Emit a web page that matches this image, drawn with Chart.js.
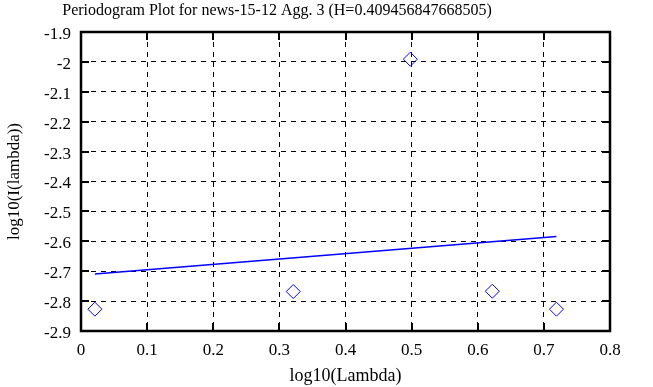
<!DOCTYPE html>
<html><head><meta charset="utf-8">
<script src="https://cdn.jsdelivr.net/npm/chart.js@4"></script>
<style>html,body{margin:0;padding:0;background:#fff}#c{display:block}</style>
</head><body>
<div style="width:653px;height:387px"><canvas id="c" width="653" height="387"></canvas></div>
<script>
const titleText = 'Periodogram Plot for news-15-12 Agg. 3 (H=0.409456847668505)';
const pointsX = [0.021, 0.321, 0.498, 0.622, 0.719];
const pointsY = [-2.827, -2.768, -1.991, -2.767, -2.827];
const fitX = [0.021, 0.719];
const fitY = [-2.709, -2.584];
const xTicks = [0, 0.1, 0.2, 0.3, 0.4, 0.5, 0.6, 0.7, 0.8];
const yTicks = [-2.9, -2.8, -2.7, -2.6, -2.5, -2.4, -2.3, -2.2, -2.1, -2, -1.9];

const fontFam = '"Liberation Serif","DejaVu Serif",serif';
const fmt = v => String(Number(v.toFixed(1)));

const frame = {
  id: 'frame',
  afterDatasetsDraw(chart) {
    const {ctx, chartArea: a, scales} = chart;
    ctx.save();
    ctx.strokeStyle = '#000';
    ctx.lineWidth = 2;
    const L = 8;
    ctx.beginPath();
    xTicks.forEach(v => {
      const px = Math.round(scales.x.getPixelForValue(v));
      ctx.moveTo(px, a.bottom); ctx.lineTo(px, a.bottom - L);
      ctx.moveTo(px, a.top); ctx.lineTo(px, a.top + L);
    });
    yTicks.forEach(v => {
      const py = Math.round(scales.y.getPixelForValue(v));
      ctx.moveTo(a.left, py); ctx.lineTo(a.left + L, py);
      ctx.moveTo(a.right, py); ctx.lineTo(a.right - L, py);
    });
    ctx.stroke();
    ctx.lineWidth = 2.5;
    ctx.strokeRect(a.left, a.top, a.right - a.left, a.bottom - a.top);
    // y tick labels
    ctx.fillStyle = '#000';
    ctx.font = '17px ' + fontFam;
    ctx.textAlign = 'right';
    ctx.textBaseline = 'middle';
    yTicks.forEach(v => {
      const py = scales.y.getPixelForValue(v);
      ctx.fillText(fmt(v), a.left - 10, py + 2.5);
    });
    // title
    ctx.font = '16px ' + fontFam;
    ctx.textAlign = 'center';
    ctx.fillText(titleText, 277, 11);
    // y axis title
    ctx.translate(15, (a.top + a.bottom) / 2);
    ctx.rotate(-Math.PI / 2);
    ctx.font = '17px ' + fontFam;
    ctx.fillText('log10(I(lambda))', 0, 0);
    ctx.restore();
  }
};

new Chart(document.getElementById('c'), {
  type: 'scatter',
  data: {
    datasets: [
      {
        data: pointsX.map((x, i) => ({x, y: pointsY[i]})),
        pointStyle: 'rectRot', pointRadius: 7, pointHoverRadius: 7,
        borderColor: '#0000ff', backgroundColor: 'rgba(0,0,0,0)', borderWidth: 1,
        showLine: false
      },
      {
        data: fitX.map((x, i) => ({x, y: fitY[i]})),
        showLine: true, pointRadius: 0, borderColor: '#0000ff', borderWidth: 1.5,
        fill: false
      }
    ]
  },
  options: {
    responsive: false, animation: false, devicePixelRatio: 1,
    layout: {padding: {left: 0, right: 43, top: 32, bottom: 0}},
    plugins: {
      legend: {display: false}, tooltip: {enabled: false},
      title: {display: false}
    },
    scales: {
      x: {
        type: 'linear', min: 0, max: 0.8,
        afterBuildTicks: s => { s.ticks = xTicks.map(v => ({value: v})); },
        afterFit: s => { s.height = 56; },
        ticks: {callback: fmt, color: '#000', padding: 9, maxRotation: 0,
          font: {family: fontFam, size: 17}},
        grid: {color: '#000', lineWidth: 1, drawTicks: false},
        border: {display: false, dash: [5, 5]},
        title: {display: true, text: 'log10(Lambda)', color: '#000', padding: {top: 0, bottom: 0},
          font: {family: fontFam, size: 18}}
      },
      y: {
        type: 'linear', min: -2.9, max: -1.9,
        afterBuildTicks: s => { s.ticks = yTicks.map(v => ({value: v})); },
        afterFit: s => { s.width = 81; },
        ticks: {display: false},
        grid: {color: '#000', lineWidth: 1, drawTicks: false},
        border: {display: false, dash: [5, 5]}
      }
    }
  },
  plugins: [frame]
});
</script>
</body></html>
